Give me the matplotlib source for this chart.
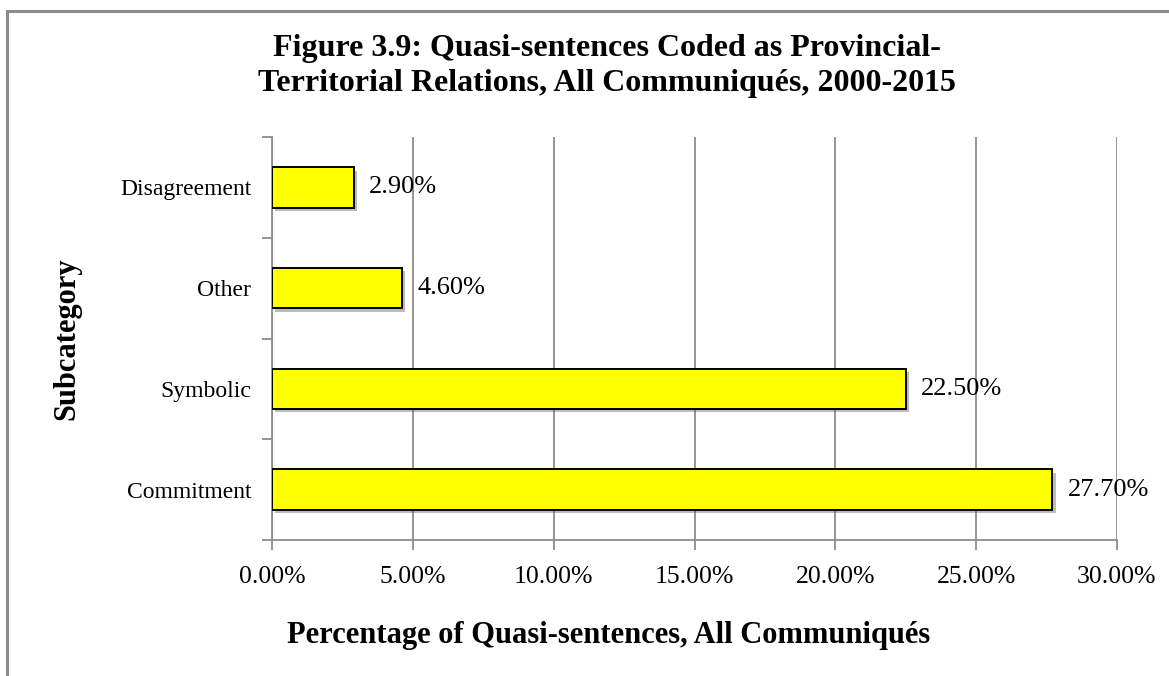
import matplotlib.pyplot as plt
import matplotlib.patheffects as pe
from matplotlib.patches import Rectangle

plt.rcParams['font.family'] = ['Liberation Serif', 'DejaVu Serif']

categories = ['Commitment', 'Symbolic', 'Other', 'Disagreement']
values = [27.7, 22.5, 4.6, 2.9]
xticks = [0, 5, 10, 15, 20, 25, 30]
xtick_labels = ['0.00%', '5.00%', '10.00%', '15.00%', '20.00%', '25.00%', '30.00%']

grid_color = '#8c8c8c'

fig = plt.figure(figsize=(11.69, 6.76), dpi=100)
ax = fig.add_axes([272 / 1169, 1 - 540 / 676, (1117 - 272) / 1169, (540 - 137) / 676])

# outer frame, runs off the right and bottom edges
fig.patches.append(Rectangle((7 / 1169, -0.05), 1.2, 1 - 11 / 676 + 0.05,
                             transform=fig.transFigure, fill=False,
                             edgecolor=grid_color, linewidth=2.2))

y = range(len(categories))
bars = ax.barh(y, values, height=0.4, color='#ffff00', edgecolor='black',
               linewidth=1.4, zorder=3)
for b in bars:
    b.set_path_effects([pe.SimplePatchShadow(offset=(2.5, -2.5), shadow_rgbFace='#555555', alpha=0.4),
                        pe.Normal()])

for yi, v in zip(y, values):
    ax.text(v + 0.55, yi, f'{v:.2f}%', va='center', ha='left', fontsize=19, zorder=4)

ax.set_xlim(0, 30)
ax.set_ylim(-0.5, len(categories) - 0.5)
ax.set_xticks(xticks)
ax.set_xticklabels(xtick_labels, fontsize=18.5)
ax.set_yticks(list(y))
ax.set_yticklabels(categories, fontsize=17)
ax.set_yticks([i - 0.5 for i in range(len(categories) + 1)], minor=True)

ax.grid(axis='x', color=grid_color, linewidth=1.3, zorder=0)
ax.tick_params(axis='y', which='major', length=0, pad=15)
ax.tick_params(axis='y', which='minor', length=7, width=1.3, color=grid_color)
ax.tick_params(axis='x', length=7, width=1.3, color=grid_color, pad=11.5)

for side in ['top', 'right']:
    ax.spines[side].set_visible(False)
for side in ['left', 'bottom']:
    ax.spines[side].set_color(grid_color)
    ax.spines[side].set_linewidth(1.3)

# x label sits centred under the whole chart area, not just the axes
ax.set_xlabel('Percentage of Quasi-sentences, All Communiqués', fontsize=22,
              fontweight='bold', va='center')
ax.xaxis.set_label_coords((609 - 272) / 845, (540 - 636) / 403)
ax.set_ylabel('Subcategory', fontsize=22, fontweight='bold', labelpad=28)

fig.text(607 / 1169, 1 - 66 / 676,
         'Figure 3.9: Quasi-sentences Coded as Provincial-\nTerritorial Relations, All Communiqués, 2000-2015',
         ha='center', va='center', fontsize=23, fontweight='bold', linespacing=1.3)

fig.savefig('out.png', dpi=100)
